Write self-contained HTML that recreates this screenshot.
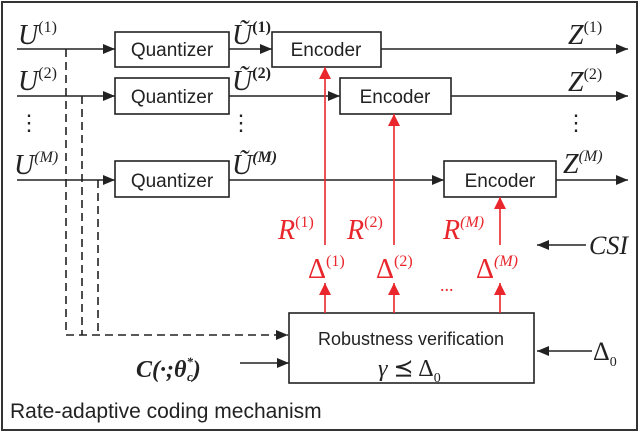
<!DOCTYPE html><html><head><style>body{margin:0;background:#fff}</style></head><body>
<svg width="640" height="433" viewBox="0 0 640 433" xmlns="http://www.w3.org/2000/svg" font-family="Liberation Serif, serif">
<defs>
<marker id="a" markerWidth="12" markerHeight="10" refX="12" refY="5" orient="auto" markerUnits="userSpaceOnUse"><path d="M0,0L12,5L0,10z" fill="#222"/></marker>
<marker id="r" markerWidth="12" markerHeight="12" refX="12" refY="6" orient="auto" markerUnits="userSpaceOnUse"><path d="M0,0L12,6L0,12z" fill="#e8262b"/></marker>
</defs>
<rect x="2" y="2" width="635" height="428" fill="none" stroke="#333" stroke-width="2"/>
<g stroke="#222" stroke-width="1.6" fill="none">
<rect x="115" y="32" width="114" height="35"/><rect x="115" y="78" width="114" height="36"/><rect x="115" y="161" width="114" height="36"/>
<rect x="272" y="32" width="109" height="35"/><rect x="340" y="78" width="111" height="36"/><rect x="444" y="161" width="112" height="36"/>
<rect x="289" y="313" width="245" height="70"/>
<line x1="17" y1="49" x2="115" y2="49" marker-end="url(#a)"/>
<line x1="17" y1="96" x2="115" y2="96" marker-end="url(#a)"/>
<line x1="17" y1="180" x2="115" y2="180" marker-end="url(#a)"/>
<line x1="229" y1="49" x2="272" y2="49" marker-end="url(#a)"/>
<line x1="229" y1="96" x2="340" y2="96" marker-end="url(#a)"/>
<line x1="229" y1="180" x2="444" y2="180" marker-end="url(#a)"/>
<line x1="381" y1="49" x2="628" y2="49" marker-end="url(#a)"/>
<line x1="451" y1="96" x2="628" y2="96" marker-end="url(#a)"/>
<line x1="556" y1="180" x2="628" y2="180" marker-end="url(#a)"/>
<line x1="586" y1="245" x2="537" y2="245" marker-end="url(#a)"/>
<line x1="592" y1="351" x2="537" y2="351" marker-end="url(#a)"/>
<line x1="240" y1="363" x2="289" y2="363" marker-end="url(#a)"/>
<g stroke-dasharray="8,5">
<path d="M66,49V335H288" marker-end="url(#a)"/><path d="M82,96V335"/><path d="M98,180V335"/>
</g>
</g>
<g stroke="#e8262b" stroke-width="1.6">
<line x1="325" y1="245" x2="325" y2="67" marker-end="url(#r)"/>
<line x1="394" y1="245" x2="394" y2="114" marker-end="url(#r)"/>
<line x1="500" y1="245" x2="500" y2="197" marker-end="url(#r)"/>
<line x1="325" y1="313" x2="325" y2="283" marker-end="url(#r)"/>
<line x1="394" y1="313" x2="394" y2="283" marker-end="url(#r)"/>
<line x1="500" y1="313" x2="500" y2="283" marker-end="url(#r)"/>
</g>
<g font-family="Liberation Sans, sans-serif" font-size="19" fill="#222" text-anchor="middle">
<text x="172" y="56">Quantizer</text><text x="172" y="103">Quantizer</text><text x="172" y="187">Quantizer</text>
<text x="326" y="56">Encoder</text><text x="395" y="103">Encoder</text><text x="500" y="187">Encoder</text>
<text x="411" y="345" font-size="18">Robustness verification</text>
<text x="10" y="418" text-anchor="start" font-size="21">Rate-adaptive coding mechanism</text>
</g>
<g font-size="28" font-style="italic" fill="#222">
<text x="18" y="44">U<tspan font-size="16" font-style="normal" dy="-12">(1)</tspan></text>
<text x="18" y="90">U<tspan font-size="16" font-style="normal" dy="-12">(2)</tspan></text>
<text x="14" y="174">U<tspan font-size="16" dy="-12">(M)</tspan></text>
<text x="232" y="44">Ũ<tspan font-size="16" font-style="normal" font-weight="bold" dy="-12">(1)</tspan></text>
<text x="232" y="90">Ũ<tspan font-size="16" font-style="normal" font-weight="bold" dy="-12">(2)</tspan></text>
<text x="232" y="174">Ũ<tspan font-size="16" font-weight="bold" dy="-12">(M)</tspan></text>
<text x="568" y="44">Z<tspan font-size="16" font-style="normal" dy="-12">(1)</tspan></text>
<text x="568" y="91">Z<tspan font-size="16" font-style="normal" dy="-12">(2)</tspan></text>
<text x="563" y="173">Z<tspan font-size="16" dy="-12">(M)</tspan></text>
<text x="589" y="254" font-size="26">CSI</text>
<text x="378" y="376" font-size="24">γ <tspan font-style="normal">⪯ Δ</tspan><tspan font-size="14" font-style="normal" dy="6">0</tspan></text>
<text x="593" y="360" font-style="normal" font-size="26">Δ<tspan font-size="14" dy="6">0</tspan></text>
<text x="136" y="377" font-weight="bold" font-size="24">C(·;θ<tspan font-size="13" dy="-11">*</tspan><tspan font-size="13" dx="-6" dy="15">c</tspan><tspan dy="-4">)</tspan></text>
</g>
<g font-size="22" fill="#222" text-anchor="middle"><text x="29" y="130">⋮</text><text x="241" y="130">⋮</text><text x="576" y="130">⋮</text></g>
<g font-size="28" fill="#e8262b">
<text x="278" y="239" font-style="italic">R<tspan font-size="16" font-style="normal" dy="-12">(1)</tspan></text>
<text x="347" y="239" font-style="italic">R<tspan font-size="16" font-style="normal" dy="-12">(2)</tspan></text>
<text x="443" y="239" font-style="italic">R<tspan font-size="16" dy="-12">(M)</tspan></text>
<text x="308" y="278">Δ<tspan font-size="16" dy="-12">(1)</tspan></text>
<text x="376" y="278">Δ<tspan font-size="16" dy="-12">(2)</tspan></text>
<text x="476" y="278">Δ<tspan font-size="16" font-style="italic" dy="-12">(M)</tspan></text>
<text x="440" y="291" font-size="18">...</text>
</g>
</svg>
</body></html>
